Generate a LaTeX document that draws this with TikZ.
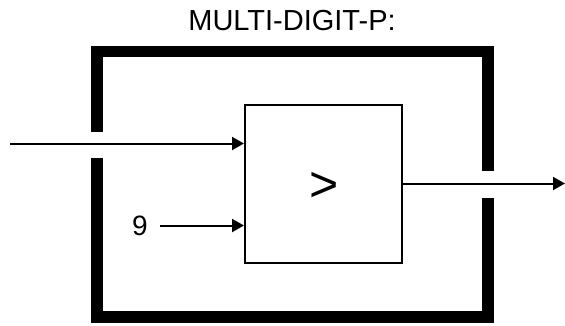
\documentclass[tikz,border=0pt]{standalone}
\usepackage{fontspec}
\setmainfont{Liberation Sans}
\usetikzlibrary{arrows.meta}
\begin{document}
\begin{tikzpicture}[x=1pt,y=-1pt,
  frame/.style={line width=11.5pt,line join=miter,line cap=butt},
  wire/.style={line width=2pt,-{Triangle[length=12pt,width=13pt]}},
  blockbox/.style={draw,line width=2pt,minimum width=157pt,minimum height=158pt,inner sep=0pt}]
\useasboundingbox (0,0) rectangle (565,325);
% title
\node[anchor=base,inner sep=0pt,font=\fontsize{29}{35}\selectfont] (title) at (292,30.5) {MULTI-DIGIT-P:};
% outer frame with gaps
\draw[frame] (97,132) -- (97,51.5) -- (488,51.5) -- (488,171);
\draw[frame] (488,198) -- (488,317) -- (97,317) -- (97,158);
% comparator block
\node[blockbox] (cmp) at (323.5,184) {};
\node[inner sep=0pt,font=\fontsize{50}{60}\selectfont] (gt) at (324,187) {>};
% constant input
\node[inner sep=0pt,font=\fontsize{28}{33}\selectfont] (nine) at (140,225.5) {9};
% connectors
\coordinate (inA) at (10,143.5);
\coordinate (outA) at (565,183.5);
\draw[wire] (inA) -- (inA -| cmp.west);
\draw[wire] ([xshift=12pt]nine.east) -- (nine.east -| cmp.west);
\draw[wire] (cmp.east |- outA) -- (outA);
\end{tikzpicture}
\end{document}
